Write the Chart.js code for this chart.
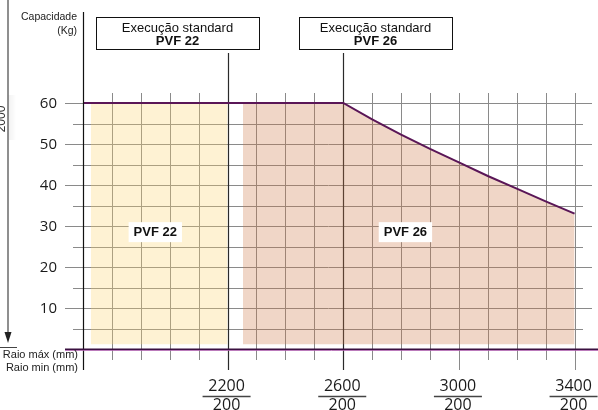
<!DOCTYPE html>
<html>
<head>
<meta charset="utf-8">
<script src="https://cdn.jsdelivr.net/npm/chart.js@4.4.1/dist/chart.umd.min.js"></script>
<style>
  html, body { margin: 0; padding: 0; background: #fff; }
  #wrap { width: 598px; height: 410px; position: relative; }
</style>
</head>
<body>
<div id="wrap"><canvas id="c"></canvas></div>
<script>
// ---- data ----
const capacityRadius = [1700, 2600, 2700, 2800, 2900, 3000, 3100, 3200, 3300, 3400];
const capacityKg     = [60,   60,   56,   52.3, 48.8, 45.5, 42.2, 39.1, 36,   33];
const pvf22Range = [1727, 2200];
const pvf26Start = 2253;
const zoneBase = 1.15;
const zoneNames = ['PVF 22', 'PVF 26'];
const zoneLabelX = [1950, 2815];
const zoneLabelY = [28.5, 28.5];
const standardLimits = [2200, 2600];
const xTickMax = [2200, 2600, 3000, 3400];
const xTickMin = [200, 200, 200, 200];
const yTicks = [10, 20, 30, 40, 50, 60];
const xRange = [1700, 3481];
const yRange = [0, 62.44];

const pvf22Data = [{x: pvf22Range[0], y: 60}, {x: pvf22Range[1], y: 60}];
const pvf26Data = [{x: pvf26Start, y: 60}].concat(
  capacityRadius.map((x, i) => ({x, y: capacityKg[i]})).filter(p => p.x >= 2600));
const capacityData = capacityRadius.map((x, i) => ({x, y: capacityKg[i]}));

const SANS = '"Liberation Sans", Arial, sans-serif';
const NUM = '"Open Sans", "Liberation Sans", sans-serif';

const decor = {
  id: 'decor',
  beforeDatasetsDraw(chart) {
    const ctx = chart.ctx, xs = chart.scales.x, ys = chart.scales.y, a = chart.chartArea;
    ctx.save();
    ctx.lineWidth = 1;
    for (let v = 5; v <= 60; v += 5) {
      const y = Math.round(ys.getPixelForValue(v)) + 0.5;
      const lab = yTicks.includes(v);
      ctx.strokeStyle = '#8a8a8a';
      ctx.beginPath();
      ctx.moveTo(lab ? 65 : 73, y);
      ctx.lineTo(lab ? 592 : 583, y);
      ctx.stroke();
    }
    for (let v = 1800; v <= 3400; v += 100) {
      const x = Math.round(xs.getPixelForValue(v)) + 0.5;
      const major = xTickMax.includes(v);
      const std = standardLimits.includes(v);
      ctx.strokeStyle = std ? '#2a2a2a' : '#8a8a8a';
      ctx.lineWidth = std ? 1.2 : 1;
      ctx.beginPath();
      ctx.moveTo(x, std ? 53 : a.top);
      ctx.lineTo(x, major ? 370 : 360);
      ctx.stroke();
    }
    ctx.restore();
  },
  afterDatasetsDraw(chart) {
    const ctx = chart.ctx, xs = chart.scales.x, ys = chart.scales.y, a = chart.chartArea;
    ctx.save();
    // y axis
    ctx.strokeStyle = '#111';
    ctx.lineWidth = 1.2;
    ctx.beginPath();
    ctx.moveTo(a.left + 0.5, 12);
    ctx.lineTo(a.left + 0.5, 370);
    ctx.stroke();
    // x axis line (dark purple with light purple edge)
    const y0 = ys.getPixelForValue(0);
    ctx.strokeStyle = 'rgba(170,90,170,0.8)';
    ctx.lineWidth = 1;
    ctx.beginPath();
    ctx.moveTo(65, y0 + 1.5); ctx.lineTo(598, y0 + 1.5); ctx.stroke();
    ctx.strokeStyle = '#3a1040';
    ctx.lineWidth = 1.6;
    ctx.beginPath();
    ctx.moveTo(65, y0 + 0.2); ctx.lineTo(598, y0 + 0.2); ctx.stroke();

    // y tick labels
    ctx.fillStyle = '#1a1a1a';
    ctx.font = '15px ' + NUM;
    ctx.textAlign = 'right';
    ctx.textBaseline = 'middle';
    yTicks.forEach(v => ctx.fillText(String(v), 57, ys.getPixelForValue(v) + 1));

    // x tick labels as fractions
    ctx.font = '16px ' + NUM;
    ctx.textAlign = 'center';
    xTickMax.forEach((v, i) => {
      const x = xs.getPixelForValue(v) - 1;
      ctx.fillStyle = '#1a1a1a';
      ctx.textBaseline = 'middle';
      ctx.fillText(String(v), x, 386);
      ctx.strokeStyle = '#444';
      ctx.lineWidth = 1.3;
      ctx.beginPath();
      ctx.moveTo(x - 24, 396.5); ctx.lineTo(Math.min(x + 24, 598), 396.5); ctx.stroke();
      ctx.textBaseline = 'top';
      ctx.fillText(String(xTickMin[i]), x, 397);
    });

    // zone labels with white background
    ctx.font = 'bold 13px ' + SANS;
    ctx.textBaseline = 'middle';
    zoneNames.forEach((n, i) => {
      const x = xs.getPixelForValue(zoneLabelX[i]);
      const y = ys.getPixelForValue(zoneLabelY[i]);
      const w = ctx.measureText(n).width + 10;
      ctx.fillStyle = '#fff';
      ctx.fillRect(x - w / 2, y - 10, w, 20);
      ctx.fillStyle = '#111';
      ctx.fillText(n, x, y);
    });

    // title boxes
    const boxes = [[96, 259, 'PVF 22'], [299, 452, 'PVF 26']];
    boxes.forEach(b => {
      ctx.fillStyle = '#fff';
      ctx.fillRect(b[0], 17, b[1] - b[0], 32);
      ctx.strokeStyle = '#111';
      ctx.lineWidth = 1;
      ctx.strokeRect(b[0] + 0.5, 17.5, b[1] - b[0], 32);
      const cx = (b[0] + b[1]) / 2;
      ctx.fillStyle = '#111';
      ctx.font = '13px ' + SANS;
      ctx.fillText('Execução standard', cx, 28);
      ctx.font = 'bold 13px ' + SANS;
      ctx.fillText(b[2], cx, 41);
    });

    // axis titles
    ctx.fillStyle = '#222';
    ctx.textAlign = 'right';
    ctx.font = '10.5px ' + SANS;
    ctx.fillText('Capacidade', 77, 17.5);
    ctx.fillText('(Kg)', 77, 31);
    ctx.font = '11px ' + SANS;
    ctx.fillText('Raio máx (mm)', 78, 355);
    ctx.fillText('Raio min (mm)', 78, 368);

    // left marker: faint shadow, arrow, rotated label
    const g = ctx.createLinearGradient(8, 0, 16, 0);
    g.addColorStop(0, 'rgba(0,0,0,0.06)');
    g.addColorStop(1, 'rgba(0,0,0,0)');
    ctx.fillStyle = g;
    ctx.fillRect(8, 95, 8, 45);
    ctx.strokeStyle = '#6a6a6a';
    ctx.lineWidth = 1.5;
    ctx.beginPath();
    ctx.moveTo(8, 0); ctx.lineTo(8, 334); ctx.stroke();
    ctx.fillStyle = '#222';
    ctx.beginPath();
    ctx.moveTo(4.5, 332); ctx.lineTo(11.5, 332); ctx.lineTo(8, 343); ctx.closePath(); ctx.fill();
    ctx.strokeStyle = '#444';
    ctx.lineWidth = 1;
    ctx.beginPath();
    ctx.moveTo(0, 347.5); ctx.lineTo(17, 347.5); ctx.stroke();
    ctx.save();
    ctx.translate(5, 119);
    ctx.rotate(-Math.PI / 2);
    ctx.textAlign = 'center';
    ctx.textBaseline = 'alphabetic';
    ctx.font = '12px ' + SANS;
    ctx.fillStyle = '#333';
    ctx.fillText('2000', 0, 0);
    ctx.restore();

    ctx.restore();
  }
};

new Chart(document.getElementById('c'), {
  type: 'line',
  data: {
    datasets: [
      {
        label: 'Capacidade',
        data: capacityData,
        borderColor: '#5a1657',
        borderWidth: 2,
        pointRadius: 0,
        fill: false,
        tension: 0
      },
      {
        label: 'PVF 26',
        data: pvf26Data,
        borderWidth: 0,
        borderColor: 'rgba(0,0,0,0)',
        backgroundColor: 'rgba(205,120,68,0.30)',
        pointRadius: 0,
        fill: {value: zoneBase}
      },
      {
        label: 'PVF 22',
        data: pvf22Data,
        borderWidth: 0,
        borderColor: 'rgba(0,0,0,0)',
        backgroundColor: 'rgba(252,212,108,0.30)',
        pointRadius: 0,
        fill: {value: zoneBase}
      }
    ]
  },
  options: {
    responsive: true,
    maintainAspectRatio: false,
    animation: false,
    layout: { padding: { left: 83, right: 0, top: 93, bottom: 61 } },
    plugins: { legend: { display: false }, tooltip: { enabled: false } },
    scales: {
      x: { type: 'linear', min: xRange[0], max: xRange[1], display: false },
      y: { type: 'linear', min: yRange[0], max: yRange[1], display: false }
    }
  },
  plugins: [decor]
});
</script>
</body>
</html>
